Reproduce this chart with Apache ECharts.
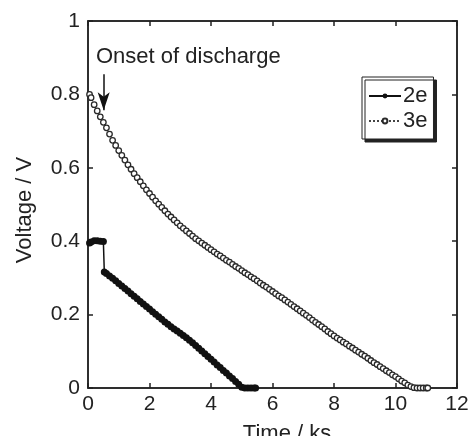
<!DOCTYPE html>
<html>
<head>
<meta charset="utf-8">
<script src="https://cdn.jsdelivr.net/npm/echarts@6/dist/echarts.min.js"></script>
<style>
  html, body { margin: 0; padding: 0; background: #fff; }
  #chart { width: 470px; height: 436px; }
</style>
</head>
<body>
<div id="chart"></div>
<script>
// time (ks) and voltage (V)
const t2e = [0.05, 0.1, 0.2, 0.3, 0.4, 0.5, 0.53, 0.6, 0.7, 0.8, 0.9,
  1.0, 1.1, 1.2, 1.3, 1.4, 1.5, 1.6, 1.7, 1.8, 1.9,
  2.0, 2.1, 2.2, 2.3, 2.4, 2.5, 2.6, 2.7, 2.8, 2.9,
  3.0, 3.1, 3.2, 3.3, 3.4, 3.5, 3.6, 3.7, 3.8, 3.9,
  4.0, 4.1, 4.2, 4.3, 4.4, 4.5, 4.6, 4.7, 4.8, 4.9,
  5.0, 5.1, 5.2, 5.3, 5.4, 5.45]
const v2e = [0.395, 0.398, 0.401, 0.401, 0.400, 0.399, 0.316, 0.312, 0.305, 0.299, 0.292,
  0.285, 0.278, 0.271, 0.264, 0.257, 0.250, 0.243, 0.236, 0.229, 0.222,
  0.215, 0.208, 0.201, 0.194, 0.187, 0.180, 0.174, 0.167, 0.161, 0.155,
  0.149, 0.143, 0.137, 0.130, 0.123, 0.116, 0.108, 0.101, 0.093, 0.086,
  0.078, 0.071, 0.063, 0.056, 0.048, 0.041, 0.033, 0.026, 0.018, 0.010,
  0.002, 0, 0, 0, 0, 0]

const t3e = [0.05, 0.1, 0.2, 0.3, 0.4, 0.5, 0.6, 0.7, 0.8, 0.9,
  1.0, 1.1, 1.2, 1.3, 1.4, 1.5, 1.6, 1.7, 1.8, 1.9,
  2.0, 2.1, 2.2, 2.3, 2.4, 2.5, 2.6, 2.7, 2.8, 2.9,
  3.0, 3.1, 3.2, 3.3, 3.4, 3.5, 3.6, 3.7, 3.8, 3.9,
  4.0, 4.1, 4.2, 4.3, 4.4, 4.5, 4.6, 4.7, 4.8, 4.9,
  5.0, 5.1, 5.2, 5.3, 5.4, 5.5, 5.6, 5.7, 5.8, 5.9,
  6.0, 6.1, 6.2, 6.3, 6.4, 6.5, 6.6, 6.7, 6.8, 6.9,
  7.0, 7.1, 7.2, 7.3, 7.4, 7.5, 7.6, 7.7, 7.8, 7.9,
  8.0, 8.1, 8.2, 8.3, 8.4, 8.5, 8.6, 8.7, 8.8, 8.9,
  9.0, 9.1, 9.2, 9.3, 9.4, 9.5, 9.6, 9.7, 9.8, 9.9,
  10.0, 10.1, 10.2, 10.3, 10.4, 10.5, 10.6, 10.7, 10.8, 10.9,
  11.0, 11.05]
const v3e = [0.800, 0.791, 0.772, 0.755, 0.739, 0.724, 0.709, 0.692, 0.675, 0.661,
  0.647, 0.634, 0.621, 0.608, 0.596, 0.584, 0.573, 0.562, 0.551, 0.540,
  0.530, 0.520, 0.510, 0.501, 0.492, 0.483, 0.474, 0.466, 0.458, 0.450,
  0.442, 0.435, 0.428, 0.421, 0.414, 0.407, 0.401, 0.395, 0.389, 0.383,
  0.377, 0.371, 0.365, 0.360, 0.354, 0.348, 0.343, 0.337, 0.331, 0.326,
  0.320, 0.314, 0.309, 0.303, 0.298, 0.292, 0.286, 0.280, 0.275, 0.269,
  0.263, 0.257, 0.251, 0.246, 0.240, 0.234, 0.228, 0.222, 0.216, 0.210,
  0.204, 0.198, 0.192, 0.185, 0.179, 0.173, 0.167, 0.161, 0.154, 0.148,
  0.142, 0.136, 0.131, 0.125, 0.120, 0.114, 0.109, 0.103, 0.098, 0.092,
  0.087, 0.081, 0.075, 0.069, 0.064, 0.058, 0.053, 0.047, 0.042, 0.036,
  0.031, 0.025, 0.019, 0.014, 0.008, 0.004, 0.001, 0, 0, 0,
  0, 0]

// arrow marking the onset of discharge
const arrowT = 0.51
const arrowFrom = 0.855
const arrowTo = 0.757

const xTicks = { min: 0, max: 12, interval: 2 }
const yTicks = { min: 0, max: 1, interval: 0.2 }

const font = "'Liberation Sans', Arial, sans-serif"
const ink = '#222'

const chart = echarts.init(document.getElementById('chart'))

const axisLine = { show: true, onZero: false, lineStyle: { color: ink, width: 1.5 } }
const axisTick = { show: true, inside: true, length: 5, lineStyle: { color: ink, width: 1.5 } }

chart.setOption({
  animation: false,
  textStyle: { fontFamily: font },
  title: {
    text: 'Onset of discharge',
    left: 96,
    top: 46,
    padding: 0,
    textStyle: { fontFamily: font, fontSize: 22, fontWeight: 'normal', color: ink }
  },
  legend: {
    left: 362,
    top: 77,
    orient: 'vertical',
    padding: [8, 6, 7, 6],
    itemGap: 3,
    itemWidth: 32,
    itemHeight: 6,
    backgroundColor: '#fff',
    borderColor: ink,
    borderWidth: 1,
    borderRadius: 0,
    shadowColor: '#222',
    shadowBlur: 0,
    shadowOffsetX: 3,
    shadowOffsetY: 3,
    textStyle: { fontFamily: font, fontSize: 22, color: ink, padding: [0, 0, 0, -3] },
    data: ['2e', '3e']
  },
  grid: {
    left: 88, right: 13, top: 21, bottom: 48,
    containLabel: false, outerBoundsMode: 'none',
    show: true, borderColor: ink, borderWidth: 1.5, backgroundColor: 'transparent'
  },
  xAxis: [{
    type: 'value',
    ...xTicks,
    position: 'bottom',
    name: 'Time / ks',
    nameLocation: 'middle',
    nameGap: 35,
    nameTextStyle: { fontFamily: font, fontSize: 22, color: ink, padding: [0, 0, 0, 29] },
    axisLine, axisTick,
    axisLabel: { fontFamily: font, fontSize: 21, color: ink, margin: 6 },
    splitLine: { show: false }
  }, {
    type: 'value',
    ...xTicks,
    position: 'top',
    axisLine, axisTick,
    axisLabel: { show: false },
    splitLine: { show: false }
  }],
  yAxis: [{
    type: 'value',
    ...yTicks,
    position: 'left',
    name: 'Voltage / V',
    nameLocation: 'middle',
    nameGap: 52,
    nameTextStyle: { fontFamily: font, fontSize: 22, color: ink, padding: [0, 11, 0, 0] },
    axisLine, axisTick,
    axisLabel: { fontFamily: font, fontSize: 21, color: ink, margin: 8 },
    splitLine: { show: false }
  }, {
    type: 'value',
    ...yTicks,
    position: 'right',
    axisLine, axisTick,
    axisLabel: { show: false },
    splitLine: { show: false }
  }],
  series: [{
    name: '2e',
    type: 'line',
    data: t2e.map((t, i) => [t, v2e[i]]),
    symbol: 'circle',
    symbolSize: 7,
    itemStyle: { color: '#111' },
    lineStyle: { color: '#111', width: 1.5 }
  }, {
    name: '3e',
    type: 'line',
    data: t3e.map((t, i) => [t, v3e[i]]),
    symbol: 'circle',
    symbolSize: 5.5,
    itemStyle: { color: '#fff', borderColor: '#2a2a2a', borderWidth: 1.3 },
    lineStyle: { color: '#444', width: 1, type: 'dotted' },
    markLine: {
      silent: true,
      symbol: ['none', 'arrow'],
      symbolSize: [9, 18],
      label: { show: false },
      lineStyle: { color: '#111', width: 1.5, type: 'solid' },
      data: [[{ coord: [arrowT, arrowFrom] }, { coord: [arrowT, arrowTo] }]]
    }
  }, {
    // empty series so the mirrored top/right axes get drawn
    name: 'frame',
    type: 'line',
    xAxisIndex: 1,
    yAxisIndex: 1,
    data: [],
    silent: true
  }]
})
</script>
</body>
</html>
